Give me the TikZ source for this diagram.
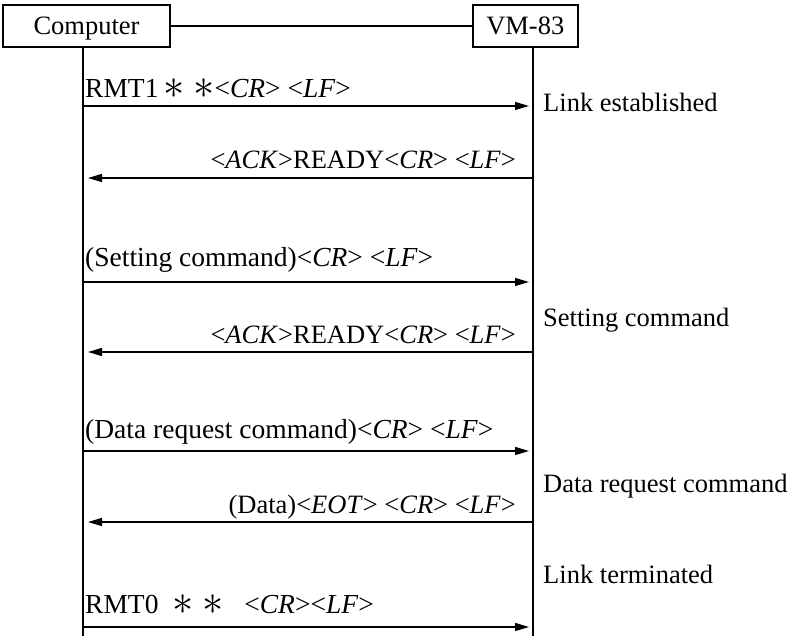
\documentclass[tikz,border=0pt]{standalone}
\usepackage{fontspec}
\setmainfont{Liberation Serif}
\usetikzlibrary{arrows.meta}
\newcommand{\ang}[1]{<\textit{#1}>}
\newcommand{\astk}{\raisebox{-1pt}{\scalebox{1.7}{$\ast$}}}
\tikzset{
  box/.style={draw, line width=2.4pt, inner sep=0pt, minimum height=42pt,
    text height=21pt, text depth=3pt},
  life/.style={line width=2.6pt},
  link/.style={line width=2pt},
  msg/.style={line width=1.3pt, -{Triangle[length=14pt,width=8pt]}},
  ltxt/.style={inner sep=0pt, anchor=base west, font=\fontsize{27.5}{30}\selectfont},
  rtxt/.style={inner sep=0pt, anchor=base east, font=\fontsize{26.5}{30}\selectfont},
  ptxt/.style={inner sep=0pt, anchor=base west},
}
\begin{document}
\begin{tikzpicture}[x=1pt,y=-1pt,font=\fontsize{26.5}{30}\selectfont]
\useasboundingbox (0,0) rectangle (789,636);
% participants
\node[box, minimum width=167pt] (comp) at (86.5,26) {Computer};
\node[box, minimum width=105pt] (vm) at (525.3,26) {VM-83};
\draw[link] (comp.east) -- (vm.west);
% lifelines
\coordinate (ctop) at (83,47);
\coordinate (cbot) at (83,636);
\coordinate (vtop) at (533,47);
\coordinate (vbot) at (533,636);
\draw[life] (ctop) -- (cbot);
\draw[life] (vtop) -- (vbot);
% message end points
\coordinate (a1) at (83,106);  \coordinate (b1) at (529,106);
\coordinate (a2) at (533,178); \coordinate (b2) at (88,178);
\coordinate (a3) at (83,282);  \coordinate (b3) at (529,282);
\coordinate (a4) at (533,352); \coordinate (b4) at (88,352);
\coordinate (a5) at (83,451);  \coordinate (b5) at (529,451);
\coordinate (a6) at (533,522); \coordinate (b6) at (88,522);
\coordinate (a7) at (83,627);  \coordinate (b7) at (529,627);
\draw[msg] (a1) -- (b1);
\draw[msg] (a2) -- (b2);
\draw[msg] (a3) -- (b3);
\draw[msg] (a4) -- (b4);
\draw[msg] (a5) -- (b5);
\draw[msg] (a6) -- (b6);
\draw[msg] (a7) -- (b7);
% message labels
\node[ltxt] (t1) at (85,98) {RMT1\,\astk\,\,\astk\ang{CR} \ang{LF}};
\node[rtxt] (t2) at (516,169) {\ang{ACK}READY\ang{CR} \ang{LF}};
\node[ltxt] (t3) at (85,266) {(Setting command)\ang{CR} \ang{LF}};
\node[rtxt] (t4) at (516,343) {\ang{ACK}READY\ang{CR} \ang{LF}};
\node[ltxt] (t5) at (85,438) {(Data request command)\ang{CR} \ang{LF}};
\node[rtxt] (t6) at (516,513) {(Data)\ang{EOT} \ang{CR} \ang{LF}};
\node[ltxt] (t7) at (85,613) {RMT0\ \ \astk\,\,\astk\ \ \ \ang{CR}\ang{LF}};
% phase labels
\node[ptxt] (p1) at (543,112) {Link established};
\node[ptxt] (p2) at (543,326) {Setting command};
\node[ptxt] (p3) at (543,492) {Data request command};
\node[ptxt] (p4) at (543,583) {Link terminated};
\end{tikzpicture}
\end{document}
